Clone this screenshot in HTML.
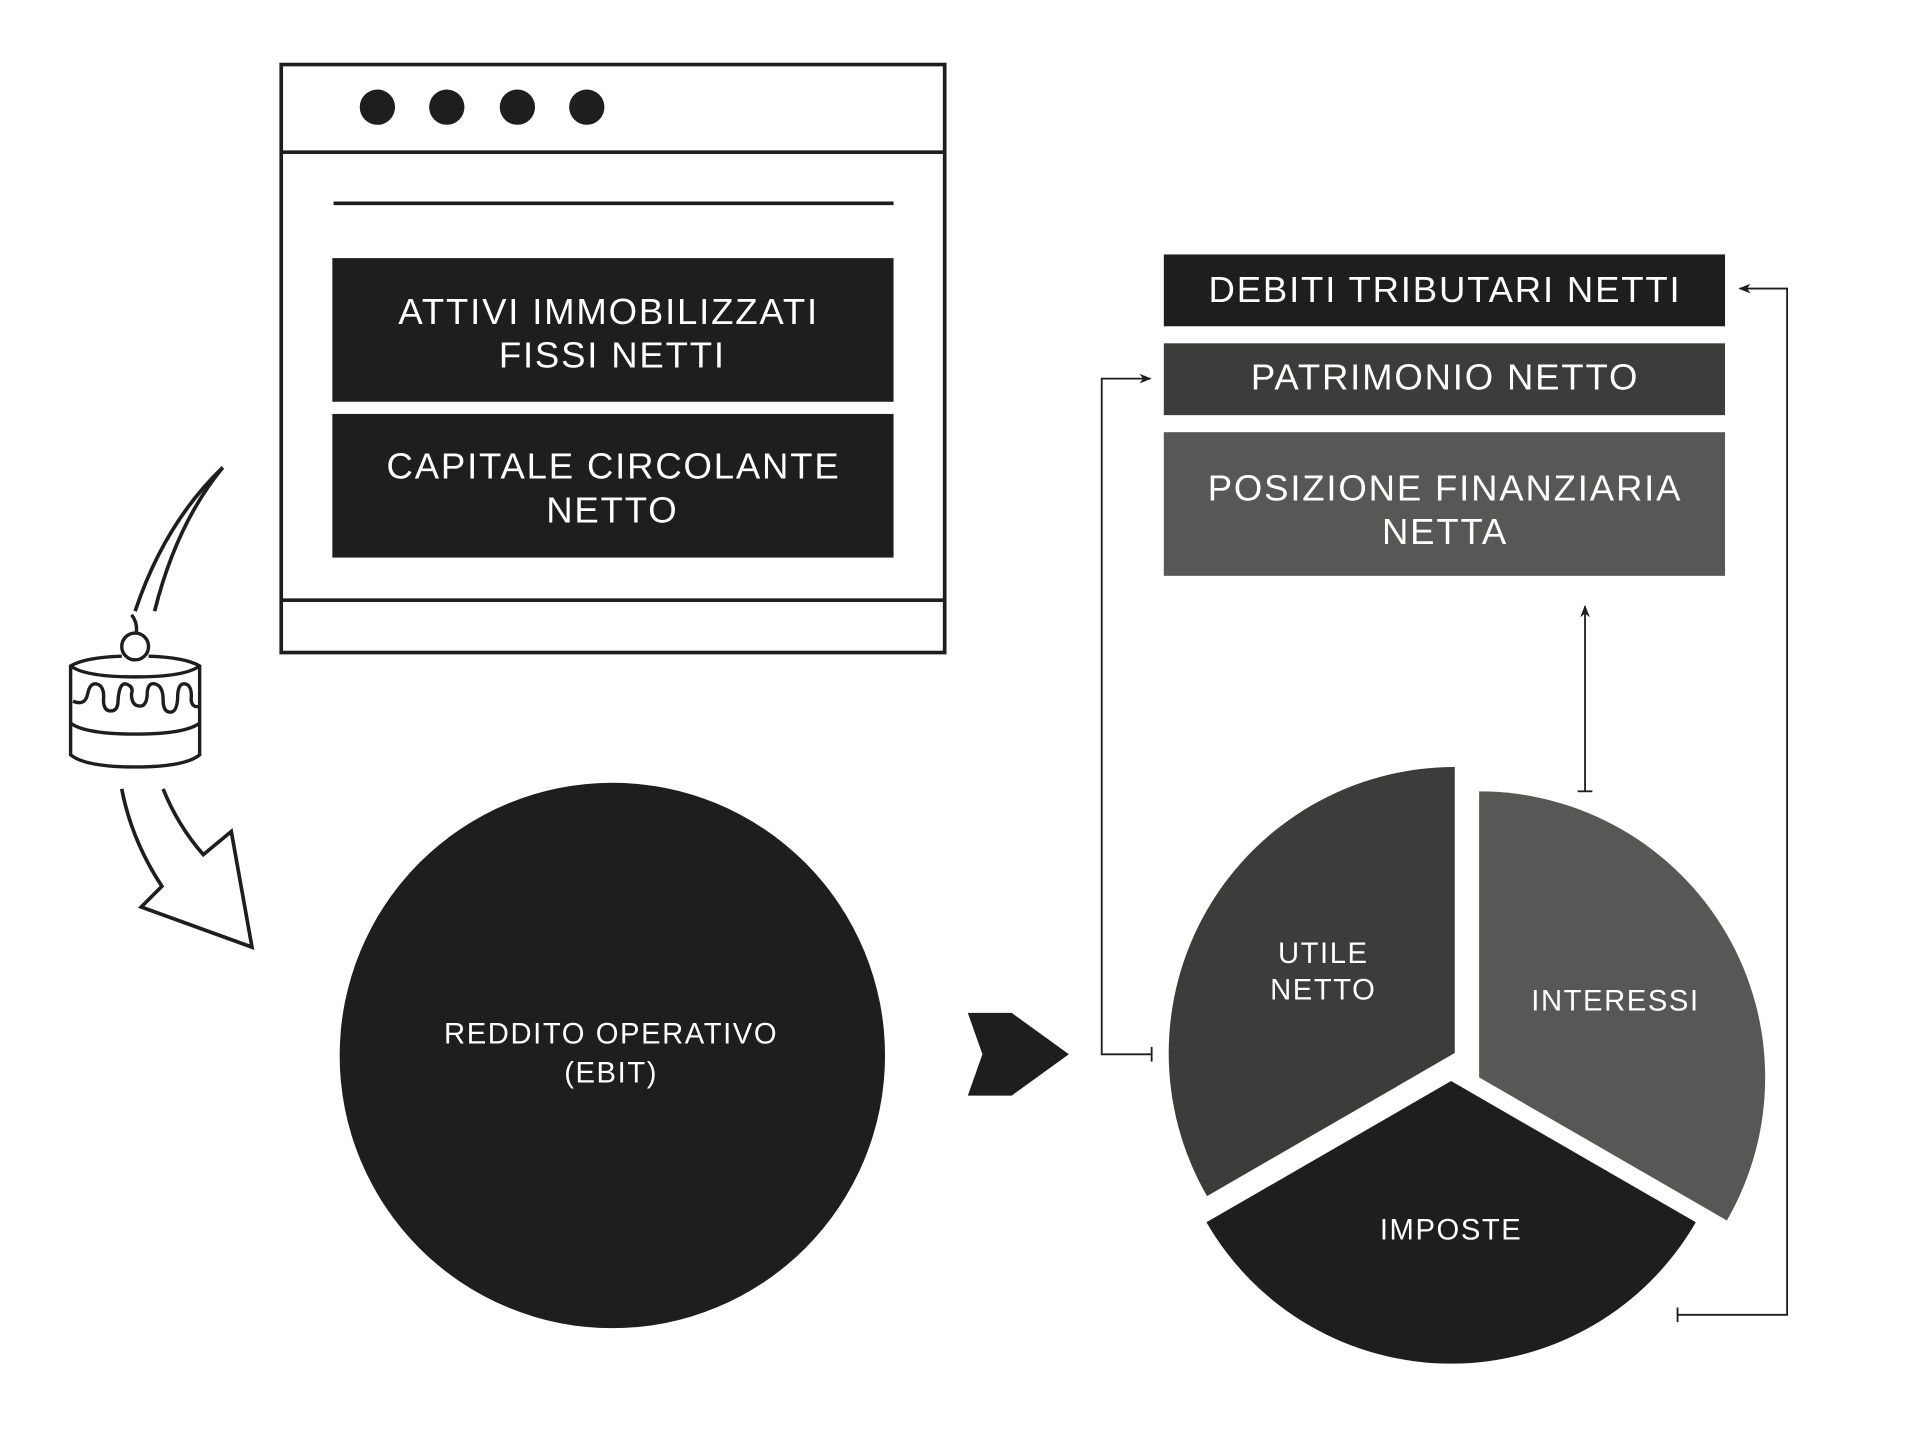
<!DOCTYPE html>
<html><head><meta charset="utf-8"><style>
html,body{margin:0;padding:0;background:#fff;width:1908px;height:1434px;overflow:hidden}
svg{display:block}
text{font-family:"Liberation Sans",sans-serif;fill:#fff;text-anchor:middle}
.b{font-size:30px;letter-spacing:1.5px}
.s{font-size:24px;letter-spacing:1.3px}
</style></head><body>
<svg width="1908" height="1434" viewBox="0 0 1567.3 1177.9" xmlns="http://www.w3.org/2000/svg">
<defs>
<marker id="ah" markerWidth="10" markerHeight="10" refX="9" refY="5" orient="auto" markerUnits="userSpaceOnUse">
<path d="M0,1 L10,5 L0,9 L3,5 Z" fill="#1e1e1e"/></marker>
</defs>
<rect x="231" y="53" width="545" height="483" fill="none" stroke="#1e1e1e" stroke-width="3"/>
<line x1="231" y1="125" x2="776" y2="125" stroke="#1e1e1e" stroke-width="3"/>
<line x1="231" y1="493" x2="776" y2="493" stroke="#1e1e1e" stroke-width="3"/>
<circle cx="310" cy="88" r="14.5" fill="#1e1e1e"/>
<circle cx="367" cy="88" r="14.5" fill="#1e1e1e"/>
<circle cx="425" cy="88" r="14.5" fill="#1e1e1e"/>
<circle cx="482" cy="88" r="14.5" fill="#1e1e1e"/>
<line x1="274" y1="167" x2="734" y2="167" stroke="#1e1e1e" stroke-width="3"/>
<rect x="273" y="212" width="461" height="118" fill="#1e1e1e"/>
<rect x="273" y="340" width="461" height="118" fill="#1e1e1e"/>
<text x="500" y="266" class="b">ATTIVI IMMOBILIZZATI</text>
<text x="503" y="302" class="b">FISSI NETTI</text>
<text x="504" y="393" class="b">CAPITALE CIRCOLANTE</text>
<text x="503" y="429" class="b">NETTO</text>
<rect x="956" y="209" width="461" height="59" fill="#1e1e1e"/>
<rect x="956" y="282" width="461" height="59" fill="#3c3c3b"/>
<rect x="956" y="355" width="461" height="118" fill="#575756"/>
<text x="1187" y="248" class="b">DEBITI TRIBUTARI NETTI</text>
<text x="1187" y="320" class="b">PATRIMONIO NETTO</text>
<text x="1187" y="411" class="b">POSIZIONE FINANZIARIA</text>
<text x="1187" y="447" class="b">NETTA</text>
<circle cx="503" cy="867" r="224" fill="#1e1e1e"/>
<text x="502" y="857" class="s">REDDITO OPERATIVO</text>
<text x="502" y="889" class="s">(EBIT)</text>
<path d="M795,832 L831,832 L878,866 L831,900 L795,900 L807,866 Z" fill="#1e1e1e"/>
<path d="M1195,865 L1195,630 A235,235 0 0 0 991.5,982.5 Z" fill="#3c3c3b"/>
<path d="M1215,885 L1215,650 A235,235 0 0 1 1418.5,1002.5 Z" fill="#575756"/>
<path d="M1192,888 L1393,1004 A232,232 0 0 1 991,1004 Z" fill="#1e1e1e"/>
<text x="1087" y="791" class="s">UTILE</text>
<text x="1087" y="821" class="s">NETTO</text>
<text x="1327" y="830" class="s">INTERESSI</text>
<text x="1192" y="1018" class="s">IMPOSTE</text>
<polyline points="946,866 905,866 905,311 945,311" fill="none" stroke="#1e1e1e" stroke-width="1.5" marker-end="url(#ah)"/>
<line x1="946" y1="860" x2="946" y2="872" stroke="#1e1e1e" stroke-width="1.5"/>
<polyline points="1378,1080 1468,1080 1468,237 1429,237" fill="none" stroke="#1e1e1e" stroke-width="1.5" marker-end="url(#ah)"/>
<line x1="1378" y1="1074" x2="1378" y2="1086" stroke="#1e1e1e" stroke-width="1.5"/>
<line x1="1302" y1="650" x2="1302" y2="498" stroke="#1e1e1e" stroke-width="1.5" marker-end="url(#ah)"/>
<line x1="1296" y1="650" x2="1308" y2="650" stroke="#1e1e1e" stroke-width="1.5"/>
<g fill="none" stroke="#1e1e1e" stroke-width="3" stroke-linejoin="miter">
<path d="M111,502 Q135,430 183,384"/>
<path d="M127,502 Q145,430 183,384"/>
<path d="M100,648 Q108,690 133,728 L116,745 L207,778 L190,683 L167,702 Q146,678 134,648"/>
</g>
<g fill="none" stroke="#1e1e1e" stroke-width="2.8">
<path d="M108,505 Q113,511 112,520"/>
<circle cx="111" cy="531" r="11"/>
<path d="M100,539 Q70,540 58,547 L58,620 Q70,630 111,630 Q152,630 164,620 L164,547 Q152,540 122,539"/>
<path d="M58,547 Q70,556 111,556 Q152,556 164,547"/>
<path d="M58,594 Q70,603 111,603 Q152,603 164,594"/>
<path d="M60,576 Q70,580 72,570 Q74,560 80,562 Q86,564 85,575 Q85,584 91,584 Q97,584 97,575 Q98,560 104,562 Q110,564 108,570 Q108,580 115,580 Q121,580 121,568 Q122,560 128,562 Q134,564 134,575 Q134,585 140,585 Q146,585 146,570 Q147,560 153,562 Q158,564 157,575 Q158,582 164,580"/>
</g>
</svg>
</body></html>
